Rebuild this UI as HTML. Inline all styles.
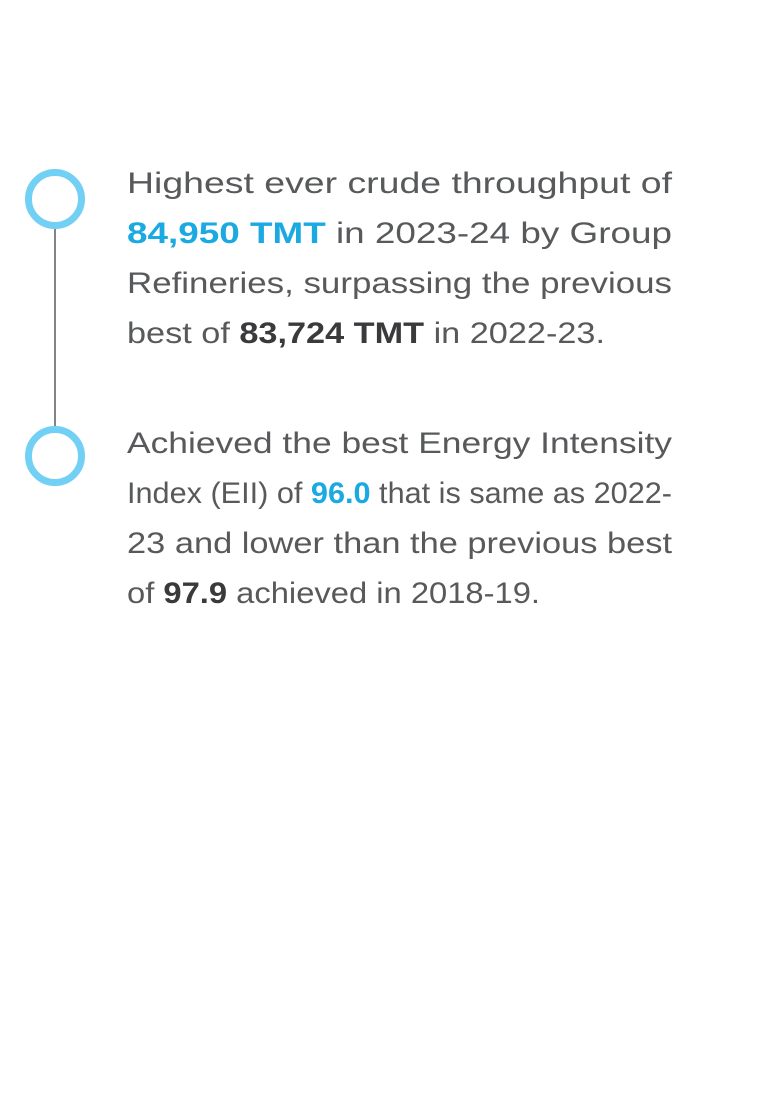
<!DOCTYPE html>
<html><head><meta charset="utf-8"><style>
html,body{margin:0;padding:0;background:#fff;}
svg{display:block;}
text{font-family:"Liberation Sans",sans-serif;font-size:30px;fill:#58595b;}
.b{font-weight:bold;fill:#3a3a3c;}
.c{font-weight:bold;fill:#1ba9e1;}
</style></head><body>
<svg width="760" height="1100">
<line x1="55" y1="228" x2="55" y2="428" stroke="#333" stroke-width="1.2"/>
<circle cx="55" cy="199" r="26.5" fill="none" stroke="#72d0f4" stroke-width="7"/>
<circle cx="55" cy="456" r="26.5" fill="none" stroke="#72d0f4" stroke-width="7"/>
<g>
<text x="127" y="193" textLength="545" lengthAdjust="spacingAndGlyphs">Highest ever crude throughput of</text>
<text x="127" y="243" textLength="545" lengthAdjust="spacingAndGlyphs"><tspan class="c">84,950 TMT</tspan> in 2023-24 by Group</text>
<text x="127" y="293" textLength="545" lengthAdjust="spacingAndGlyphs">Refineries, surpassing the previous</text>
<text x="127" y="343" textLength="478" lengthAdjust="spacingAndGlyphs">best of <tspan class="b">83,724 TMT</tspan> in 2022-23.</text>
</g>
<g>
<text x="127" y="453" textLength="545" lengthAdjust="spacingAndGlyphs">Achieved the best Energy Intensity</text>
<text x="127" y="503" textLength="545" lengthAdjust="spacingAndGlyphs">Index (EII) of <tspan class="c">96.0</tspan> that is same as 2022-</text>
<text x="127" y="553" textLength="545" lengthAdjust="spacingAndGlyphs">23 and lower than the previous best</text>
<text x="127" y="603" textLength="413" lengthAdjust="spacingAndGlyphs">of <tspan class="b">97.9</tspan> achieved in 2018-19.</text>
</g>
</svg>
</body></html>
